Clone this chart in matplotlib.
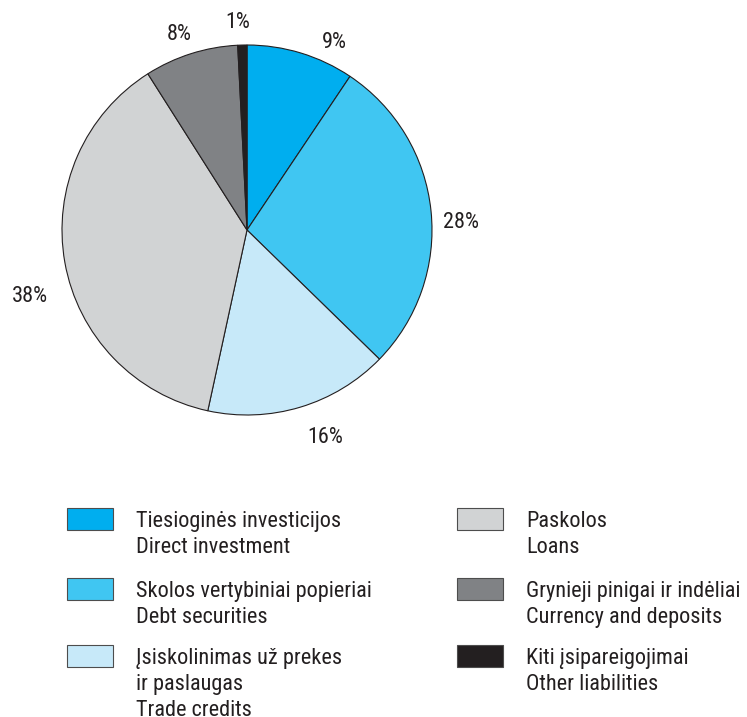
import numpy as np
import matplotlib.pyplot as plt
from matplotlib.patches import Rectangle

plt.rcParams['font.family'] = ['Roboto Condensed', 'Archivo Narrow', 'PT Sans Narrow',
                               'Liberation Sans Narrow', 'DejaVu Sans']

values = [9.4, 27.9, 16.1, 37.6, 8.2, 0.8]
pct_labels = ['9%', '28%', '16%', '38%', '8%', '1%']
names = ['Tiesioginės investicijos\nDirect investment',
         'Skolos vertybiniai popieriai\nDebt securities',
         'Įsiskolinimas už prekes\nir paslaugas\nTrade credits',
         'Paskolos\nLoans',
         'Grynieji pinigai ir indėliai\nCurrency and deposits',
         'Kiti įsipareigojimai\nOther liabilities']
colors = ['#00aeef', '#40c6f2', '#c7e9f9', '#d1d3d4', '#808285', '#231f20']

# label placement tweaks: angle nudge (deg) and distance from centre
lab_turn = [-8, -4, 4, 7, 1.5, 1]
lab_dist = [1.12, 1.16, 1.2, 1.23, 1.12, 1.12]

W, H = 747, 717
fig = plt.figure(figsize=(W / 100, H / 100), dpi=100)

cx, cy, r = 247, 230, 185
ax = fig.add_axes([(cx - r) / W, (H - cy - r) / H, 2 * r / W, 2 * r / H])
wedges, texts = ax.pie(values, labels=pct_labels, colors=colors, startangle=90,
                       counterclock=False, radius=1.0,
                       wedgeprops=dict(edgecolor='#231f20', linewidth=0.8),
                       textprops=dict(fontsize=16, color='#231f20'))
for w, t, turn, d in zip(wedges, texts, lab_turn, lab_dist):
    ang = np.deg2rad((w.theta1 + w.theta2) / 2 + turn)
    t.set_position((d * np.cos(ang), d * np.sin(ang)))
    t.set_ha('center')
    t.set_va('center')
ax.set_aspect('equal')
ax.set_xlim(-1.0, 1.0)
ax.set_ylim(-1.0, 1.0)

# legend drawn by hand, two columns
col_x = [67, 457]
row_y = [508, 578, 645]
for i, (name, c) in enumerate(zip(names, colors)):
    col, row = divmod(i, 3)
    bx, by = col_x[col], row_y[row]
    fig.patches.append(Rectangle((bx / W, 1 - (by + 22) / H), 46 / W, 22 / H,
                                 transform=fig.transFigure, facecolor=c,
                                 edgecolor='#4d4d4d', linewidth=0.8))
    fig.text((bx + 69) / W, 1 - (by + 3) / H, name, ha='left', va='top',
             fontsize=16, color='#231f20', linespacing=1.3)

fig.savefig('out.png', dpi=100)
